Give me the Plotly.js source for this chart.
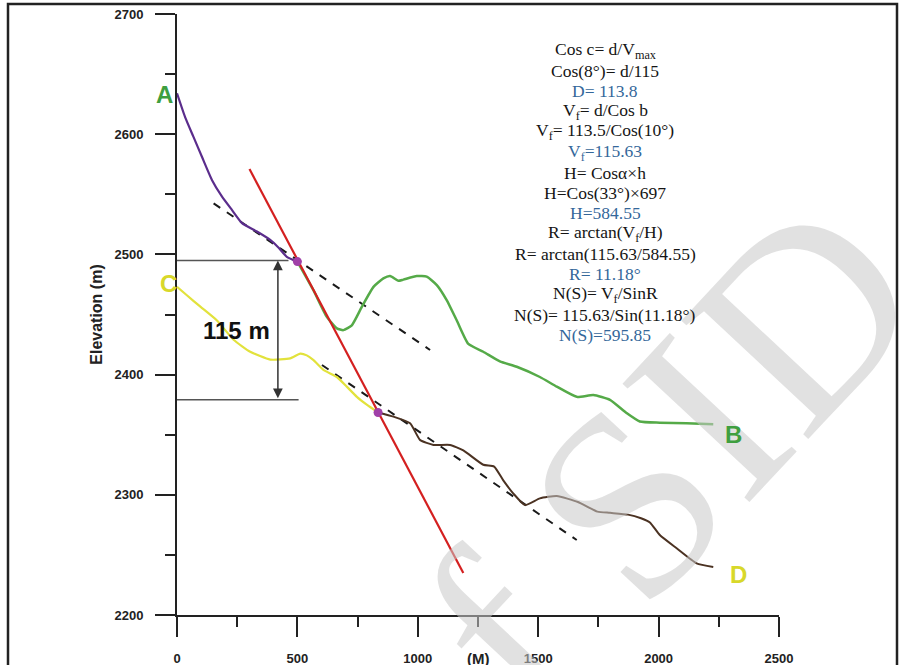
<!DOCTYPE html>
<html>
<head>
<meta charset="utf-8">
<script src="https://cdn.plot.ly/plotly-3.0.1.min.js"></script>
<style>
html,body{margin:0;padding:0;background:#fff;}
#chart{width:904px;height:665px;}
</style>
</head>
<body>
<div id="chart"></div>
<script>
// ---- data (distance in m, elevation in m) ----
const profileAX = [0,34,68,104,145,187,228,270,332,387,420,456,500];
const profileAY = [2634,2614,2598,2581,2562,2548,2537,2526,2519,2512,2506,2498,2494];

const profileBX = [500,567,622,664,691,726,768,816,857,885,919,940,996,1037,1079,1120,1162,1210,1272,1341,1411,1507,1577,1660,1729,1798,1867,1922,2005,2116,2227];
const profileBY = [2494,2470,2448,2438.5,2437,2441,2456.5,2473,2480,2482,2478,2479,2482,2481.5,2474.5,2462,2445,2425.5,2419,2411,2406.5,2398,2390,2381.5,2383,2379,2368,2361,2360,2359.5,2358.7];

const profileCX = [0,41,97,166,235,304,387,470,512,539,567,608,664,705,747,788,835];
const profileCY = [2473,2466,2456.5,2445,2429,2419,2412.5,2413.5,2417.5,2416,2412,2404,2398,2390,2381.5,2375,2368.5];

const profileDX = [835,899,968,1010,1065,1134,1189,1272,1317,1355,1397,1445,1507,1577,1665,1746,1798,1873,1927,1964,2005,2075,2158,2227];
const profileDY = [2368.5,2365,2359.5,2345.5,2341.5,2341.5,2337,2325,2323.5,2312,2301,2291.5,2297,2299,2294,2286,2285,2283.5,2280.5,2277,2266.5,2255.5,2243,2240];

const faultX = [301,1189];
const faultY = [2571,2235];

const trendUpperX = [152,1051];
const trendUpperY = [2542.5,2420.5];
const trendLowerX = [602,1660];
const trendLowerY = [2408,2262.4];

const pierceX = [500,835];
const pierceY = [2494,2368.5];

const offsetLevels = [2495,2379];
const offsetLineEnds = [463,505];
const offsetArrowX = 419;
const offsetLabel = "115 m";
const offsetLabelPos = [249,2437];

const endLabels = ["A","B","C","D"];
const endLabelX = [-53,2312,-36,2332];
const endLabelY = [2633.4,2349.8,2475.8,2233.3];
const endLabelColors = ["#3f9f3f","#3f9f3f","#d8d82a","#d8d82a"];

const formulaLines = [
  "Cos c= d/V<sub>max</sub>",
  "Cos(8°)= d/115",
  "D= 113.8",
  "V<sub>f</sub>= d/Cos b",
  "V<sub>f</sub>= 113.5/Cos(10°)",
  "V<sub>f</sub>=115.63",
  "H= Cosα×h",
  "H=Cos(33°)×697",
  "H=584.55",
  "R= arctan(V<sub>f</sub>/H)",
  "R= arctan(115.63/584.55)",
  "R= 11.18°",
  "N(S)= V<sub>f</sub>/SinR",
  "N(S)= 115.63/Sin(11.18°)",
  "N(S)=595.85"
];
const formulaIsResult = [false,false,true,false,false,true,false,false,true,false,false,true,false,false,true];

const watermarkText = "of SID";

const xTickVals = [0,500,1000,1500,2000,2500];
const yTickVals = [2200,2300,2400,2500,2600,2700];
const xRange = [0,2500];
const yRange = [2200,2700];

// ---- layout helpers ----
const W = 904, H = 665;
const M = {l:177, r:125, t:14, b:50};
const PW = W - M.l - M.r, PH = H - M.t - M.b;
const toPaperX = x => (x - xRange[0])/(xRange[1]-xRange[0]);
const toPaperY = y => (y - yRange[0])/(yRange[1]-yRange[0]);
const pxToPaperX = px => (px - M.l)/PW;
const pxToPaperY = py => (H - M.b - py)/PH;

const sans = "Liberation Sans, Arial, sans-serif";
const serif = "Liberation Serif, Times New Roman, serif";

const traces = [
  {x:trendUpperX, y:trendUpperY, mode:'lines', line:{color:'#1a1a1a', width:2, dash:'8px,8px'}, hoverinfo:'skip'},
  {x:trendLowerX, y:trendLowerY, mode:'lines', line:{color:'#1a1a1a', width:2, dash:'8px,8px'}, hoverinfo:'skip'},
  {x:profileBX, y:profileBY, mode:'lines', line:{color:'#55aa48', width:2.5, shape:'spline', smoothing:0.5}},
  {x:profileDX, y:profileDY, mode:'lines', line:{color:'#4b3222', width:2, shape:'spline', smoothing:0.5}},
  {x:profileCX, y:profileCY, mode:'lines', line:{color:'#e2e23c', width:2.2, shape:'spline', smoothing:0.5}},
  {x:profileAX, y:profileAY, mode:'lines', line:{color:'#5b2d8c', width:2.2, shape:'spline', smoothing:0.5}},
  {x:faultX, y:faultY, mode:'lines', line:{color:'#d42020', width:2.2}},
  {x:pierceX, y:pierceY, mode:'markers', marker:{color:'#a040a8', size:9}}
];

const annotations = [];
// watermark (drawn first, light)
annotations.push({xref:'paper', yref:'paper', x:pxToPaperX(625), y:pxToPaperY(505), text:watermarkText, showarrow:false,
  xanchor:'center', yanchor:'middle', textangle:-47,
  font:{family:serif, size:265, color:'rgba(200,200,200,0.55)'}});
// end labels
endLabels.forEach((t,i)=>{
  annotations.push({xref:'paper', yref:'paper', x:toPaperX(endLabelX[i]), y:toPaperY(endLabelY[i]),
    text:t, showarrow:false, xanchor:'center', yanchor:'middle',
    font:{family:sans, size:24, color:endLabelColors[i], weight:'bold'}});
});
// offset arrow
annotations.push({x:offsetArrowX, y:offsetLevels[0], ax:offsetArrowX, ay:offsetLevels[1], xref:'x', yref:'y', axref:'x', ayref:'y',
  text:'', showarrow:true, arrowside:'end+start', arrowhead:2, arrowsize:1.3, arrowwidth:1.5, arrowcolor:'#333', standoff:0, startstandoff:0});
annotations.push({x:offsetLabelPos[0], y:offsetLabelPos[1], xref:'x', yref:'y', text:offsetLabel, showarrow:false,
  font:{family:sans, size:24, color:'#111', weight:'bold'}});
// formulas
const fx = pxToPaperX(605), fTop = 50.7, fStep = 20.3;
formulaLines.forEach((t,i)=>{
  annotations.push({xref:'paper', yref:'paper', x:fx, y:pxToPaperY(fTop + i*fStep), text:t, showarrow:false,
    xanchor:'center', yanchor:'middle',
    font:{family:serif, size:17.5, color: formulaIsResult[i] ? '#34679a' : '#151515'}});
});
// x-axis title
annotations.push({xref:'paper', yref:'paper', x:0.5, y:pxToPaperY(658), text:'(M)', showarrow:false, xanchor:'center', yanchor:'middle',
  font:{family:sans, size:15, color:'#222', weight:'bold'}});

const shapes = offsetLevels.map((lv,i)=>({type:'line', xref:'x', yref:'y', x0:0, x1:offsetLineEnds[i], y0:lv, y1:lv,
  line:{color:'#555', width:1.5}}));
shapes.push({type:'rect', xref:'paper', yref:'paper', x0:pxToPaperX(8), x1:pxToPaperX(897), y0:pxToPaperY(4), y1:pxToPaperY(690),
  line:{color:'#222', width:2.5}, fillcolor:'rgba(0,0,0,0)'});

const axisCommon = {showgrid:false, zeroline:false, showline:true, linecolor:'#222', linewidth:2,
  ticks:'outside', ticklen:20, tickwidth:2, tickcolor:'#222',
  tickfont:{family:sans, size:13, color:'#222', weight:'bold'}};

const layout = {
  width:W, height:H, margin:M, showlegend:false,
  paper_bgcolor:'#fff', plot_bgcolor:'#fff',
  xaxis:Object.assign({}, axisCommon, {range:xRange, tickvals:xTickVals, ticklabelstandoff:10,
    minor:{tickvals:[250,750,1250,1750,2250], ticks:'outside', ticklen:10, tickwidth:2, tickcolor:'#222'}}),
  yaxis:Object.assign({}, axisCommon, {range:yRange, tickvals:yTickVals, ticklabelstandoff:9,
    minor:{tickvals:[2250,2350,2450,2550,2650], ticks:'outside', ticklen:10, tickwidth:2, tickcolor:'#222'},
    title:{text:'Elevation (m)', standoff:8, font:{family:sans, size:16, color:'#222', weight:'bold'}}}),
  annotations, shapes
};

Plotly.newPlot('chart', traces, layout, {displayModeBar:false, staticPlot:true});
</script>
</body>
</html>
